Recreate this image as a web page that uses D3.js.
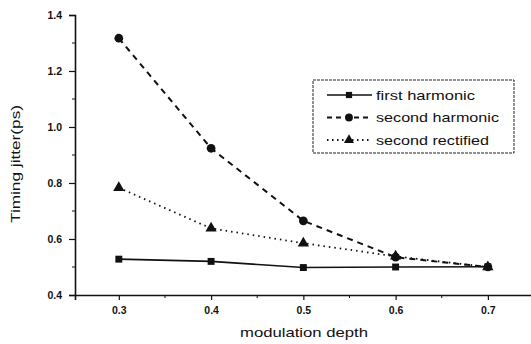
<!DOCTYPE html>
<html>
<head>
<meta charset="utf-8">
<script src="https://cdn.jsdelivr.net/npm/d3@7"></script>
<style>
  body { margin: 0; background: #fff; }
  text { font-family: "Liberation Sans", Arial, sans-serif; fill: #111; }
</style>
</head>
<body>
<div id="chart"></div>
<script>
// data
const depths = [0.3, 0.4, 0.5, 0.6, 0.7];
const firstHarmonic = [0.528, 0.520, 0.498, 0.500, 0.501];
const secondHarmonic = [1.317, 0.924, 0.665, 0.535, 0.500];
const secondRectified = [0.783, 0.638, 0.585, 0.538, 0.500];
const seriesNames = ["first harmonic", "second harmonic", "second rectified"];
const xTicks = [0.3, 0.4, 0.5, 0.6, 0.7];
const yTicks = [0.4, 0.6, 0.8, 1.0, 1.2, 1.4];

const width = 531, height = 344;

const svg = d3.select("#chart")
  .append("svg")
  .attr("width", width)
  .attr("height", height);

// scales
const x = d3.scaleLinear().domain([0.2525, 0.75]).range([75, 534]);
const y = d3.scaleLinear().domain([0.4, 1.4]).range([295, 15]);

// x axis
const xAxis = svg.append("g")
  .attr("transform", `translate(0,${y(0.4)})`)
  .call(d3.axisBottom(x).tickValues(xTicks).tickFormat(d3.format(".1f"))
    .tickSizeOuter(0).tickSize(5).tickPadding(7));
xAxis.append("g").selectAll("line")
  .data([0.35, 0.45, 0.55, 0.65, 0.75])
  .join("line")
  .attr("x1", d => x(d)).attr("x2", d => x(d))
  .attr("y1", 0).attr("y2", 3)
  .attr("stroke", "#111");

// y axis
const yAxis = svg.append("g")
  .attr("transform", `translate(${x(0.2525)},0)`)
  .call(d3.axisLeft(y).tickValues(yTicks).tickFormat(d3.format(".1f"))
    .tickSizeOuter(0).tickSize(6).tickPadding(7));
yAxis.append("g").selectAll("line")
  .data([0.5, 0.7, 0.9, 1.1, 1.3])
  .join("line")
  .attr("x1", 0).attr("x2", -3)
  .attr("y1", d => y(d)).attr("y2", d => y(d))
  .attr("stroke", "#111");

svg.selectAll(".domain").attr("stroke", "#111").attr("stroke-width", 1.6);
svg.selectAll(".tick line").attr("stroke", "#111").attr("stroke-width", 1.2);
svg.selectAll(".tick text")
  .style("font-size", "10.5px")
  .style("font-weight", "bold")
  .attr("fill", "#111");

// axis titles
svg.append("text")
  .attr("x", 240).attr("y", 337)
  .attr("textLength", 128)
  .attr("lengthAdjust", "spacingAndGlyphs")
  .style("font-size", "13px")
  .text("modulation depth");

svg.append("text")
  .attr("transform", "translate(20,223) rotate(-90)")
  .attr("textLength", 118)
  .attr("lengthAdjust", "spacingAndGlyphs")
  .style("font-size", "13.5px")
  .text("Timing jitter(ps)");

// series
const series = [
  { name: seriesNames[0], values: firstHarmonic, dash: null, width: 1.6, marker: d3.symbolSquare, size: 48, textLen: 99 },
  { name: seriesNames[1], values: secondHarmonic, dash: "6,5", width: 2, marker: d3.symbolCircle, size: 60, textLen: 123 },
  { name: seriesNames[2], values: secondRectified, dash: "1.5,4", width: 1.8, marker: d3.symbolTriangle, size: 55, textLen: 113 }
];

const line = d3.line()
  .x((d, i) => x(depths[i]))
  .y(d => y(d));

series.forEach(s => {
  svg.append("path")
    .datum(s.values)
    .attr("d", line)
    .attr("fill", "none")
    .attr("stroke", "#111")
    .attr("stroke-width", s.width)
    .attr("stroke-dasharray", s.dash);

  svg.append("g").selectAll("path")
    .data(s.values)
    .join("path")
    .attr("transform", (d, i) => `translate(${x(depths[i])},${y(d)})`)
    .attr("d", d3.symbol().type(s.marker).size(s.size))
    .attr("fill", "#111");
});

// legend
const legend = svg.append("g").attr("transform", "translate(313,80)");
legend.append("rect")
  .attr("width", 201).attr("height", 73)
  .attr("fill", "#fff")
  .attr("stroke", "#222")
  .attr("stroke-width", 1)
  .attr("stroke-dasharray", "3,1");

series.forEach((s, i) => {
  const ly = 15 + i * 22.5;
  legend.append("line")
    .attr("x1", 14).attr("x2", 59)
    .attr("y1", ly).attr("y2", ly)
    .attr("stroke", "#111")
    .attr("stroke-width", s.width)
    .attr("stroke-dasharray", s.dash ? (i === 1 ? "5,4" : "1.5,3.5") : null);
  legend.append("path")
    .attr("transform", `translate(36,${ly})`)
    .attr("d", d3.symbol().type(s.marker).size(s.size * 0.8))
    .attr("fill", "#111");
  legend.append("text")
    .attr("x", 63).attr("y", ly)
    .attr("dy", "0.35em")
    .attr("textLength", s.textLen)
    .attr("lengthAdjust", "spacingAndGlyphs")
    .style("font-size", "13px")
    .text(s.name);
});
</script>
</body>
</html>
